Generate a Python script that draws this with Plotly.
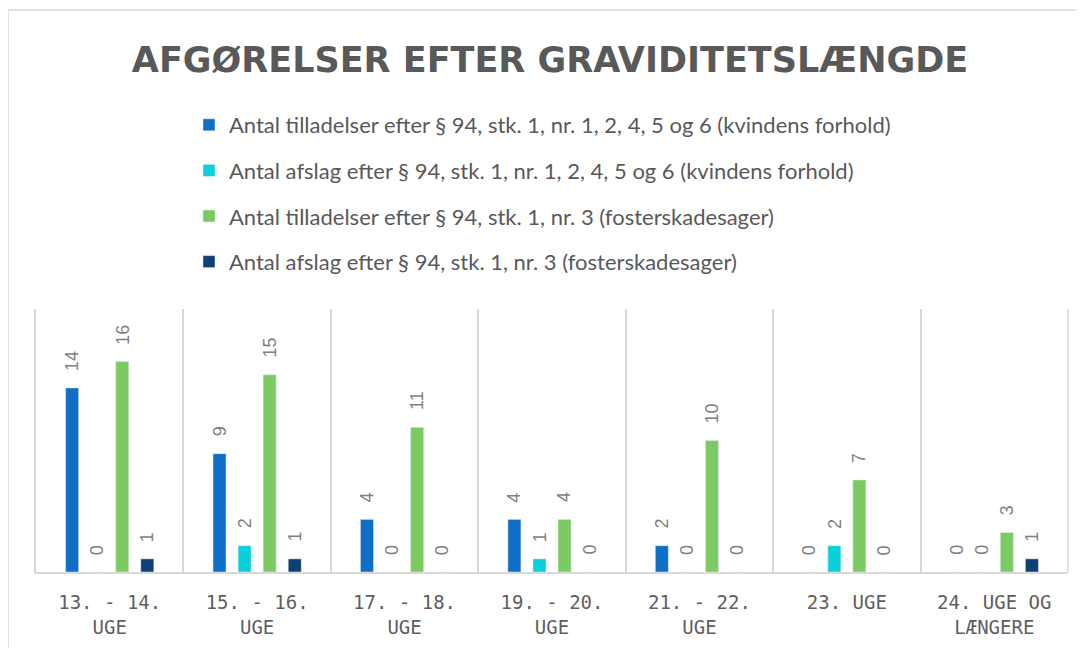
import plotly.graph_objects as go

categories = ["13. - 14.<br>UGE", "15. - 16.<br>UGE", "17. - 18.<br>UGE", "19. - 20.<br>UGE",
              "21. - 22.<br>UGE", "23. UGE", "24. UGE OG<br>LÆNGERE"]
series_names = [
    "Antal tilladelser efter § 94, stk. 1, nr. 1, 2, 4, 5 og 6 (kvindens forhold)",
    "Antal afslag efter § 94, stk. 1, nr. 1, 2, 4, 5 og 6 (kvindens forhold)",
    "Antal tilladelser efter § 94, stk. 1, nr. 3 (fosterskadesager)",
    "Antal afslag efter § 94, stk. 1, nr. 3 (fosterskadesager)",
]
tilladelser_kvinde = [14, 9, 4, 4, 2, 0, 0]
afslag_kvinde = [0, 2, 0, 1, 0, 2, 0]
tilladelser_foster = [16, 15, 11, 4, 10, 7, 3]
afslag_foster = [1, 1, 0, 0, 0, 0, 1]
series_values = [tilladelser_kvinde, afslag_kvinde, tilladelser_foster, afslag_foster]
colors = ["#0F6FC6", "#0BD0D9", "#7CCA62", "#0E3F75"]

OFF = 8  # page body margin offset
W, H = 1084, 648
ml, mr, mt, mb = 36 - OFF, 16 + OFF, 309 - OFF, 76 + OFF
pw, ph = W - ml - mr, H - mt - mb
BARGAP, BARGROUPGAP = 0.32, 0.48

n_cat = len(categories)
n_ser = len(series_values)
slot_px = (pw / n_cat) * (1 - BARGAP) / n_ser

fig = go.Figure()
annotations = []
for i, (name, vals, col) in enumerate(zip(series_names, series_values, colors)):
    fig.add_trace(go.Bar(
        x=categories, y=vals, name=name, marker_color=col,
        legendgroup=f"g{i}", hoverinfo="x+y+name",
    ))
    for c, v in zip(categories, vals):
        annotations.append(dict(
            x=c, y=v, xref="x", yref="y", text=str(v), showarrow=False,
            textangle=-90, xanchor="center", yanchor="bottom",
            xshift=(i - (n_ser - 1) / 2) * slot_px, yshift=15,
            font=dict(family="Liberation Sans", size=18, color="#7F7F7F"),
        ))

def px_x(x):
    return (x - OFF - ml) / pw

def px_y(y):
    return (H - mb - (y - OFF)) / ph

fig.update_layout(
    width=W, height=H,
    margin=dict(l=ml, r=mr, t=mt, b=mb),
    paper_bgcolor="white", plot_bgcolor="white",
    barmode="group", bargap=BARGAP, bargroupgap=BARGROUPGAP,
    title=dict(text="<b>AFGØRELSER EFTER GRAVIDITETSLÆNGDE</b>",
               x=0.5, xanchor="center", y=1 - (60 - OFF) / H, yanchor="middle", yref="container",
               font=dict(family="DejaVu Sans", size=35, color="#595959")),
    legend=dict(x=px_x(189), y=px_y(104), xanchor="left", yanchor="top",
                orientation="v", tracegroupgap=14,
                font=dict(family="Lato", size=22, color="#595959"),
                bgcolor="rgba(0,0,0,0)"),
    showlegend=True,
    annotations=annotations,
    xaxis=dict(tickson="boundaries", showgrid=True, gridcolor="#D9D9D9", gridwidth=1.5,
               showline=True, linecolor="#D9D9D9", linewidth=2, ticks="",
               ticklabelstandoff=12,
               tickfont=dict(family="DejaVu Sans Mono", size=19, color="#5F5F5F"),
               fixedrange=True),
    yaxis=dict(range=[0, 20], visible=True, showticklabels=False, showgrid=False,
               zeroline=False, showline=True, linecolor="#D9D9D9", linewidth=1.5,
               mirror=False, ticks="", fixedrange=True),
    shapes=[
        dict(type="line", xref="paper", yref="paper", x0=1, x1=1, y0=0, y1=1,
             line=dict(color="#D9D9D9", width=1.5)),
        dict(type="rect", xref="paper", yref="paper",
             x0=px_x(8), x1=px_x(1090), y0=px_y(660), y1=px_y(10),
             line=dict(color="#D9D9D9", width=1.5)),
    ],
)

fig.write_html("out.html")
